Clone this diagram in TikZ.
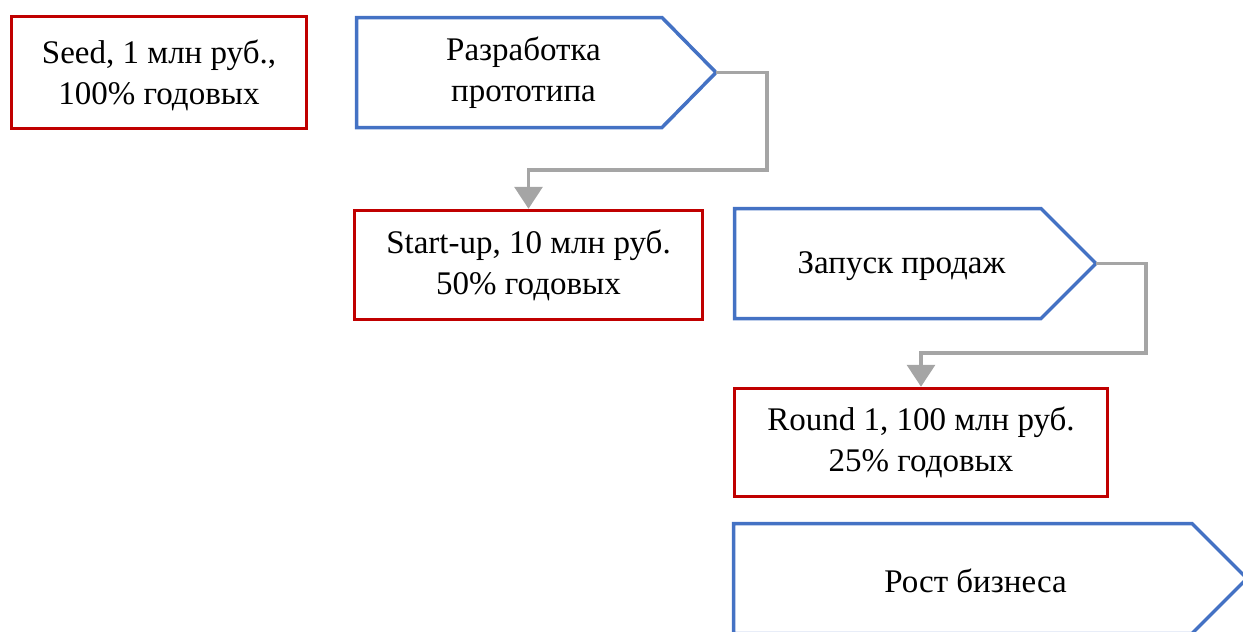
\documentclass[tikz,border=0pt]{standalone}
\usepackage{fontspec}
\setmainfont{Liberation Serif}
\usetikzlibrary{arrows.meta,positioning,calc}
\definecolor{fundRed}{RGB}{192,0,0}
\definecolor{stageBlue}{RGB}{68,114,196}
\definecolor{linkGray}{RGB}{165,165,165}
\tikzset{
  fund/.style={draw=fundRed, line width=3.5pt, fill=white, align=center, inner sep=0pt, font=\fontsize{33}{41}\selectfont},
  stage/.style={draw=stageBlue, line width=3.5pt, line join=miter},
  stagetext/.style={align=center, inner sep=0pt, font=\fontsize{33}{41}\selectfont},
  link/.style={draw=linkGray, line width=3.5pt, -{Triangle[length=22pt, width=28pt]}}
}

\begin{document}
\begin{tikzpicture}[x=1pt,y=-1pt]
  \useasboundingbox (0,0) rectangle (1243,632);

  % funding rounds
  \node[fund, minimum width=295pt, minimum height=112pt, text height=70pt, text depth=7pt] (seed) at (159,72.5) {Seed, 1 млн руб.,\\100\% годовых};
  \node[fund, minimum width=348pt, minimum height=109pt] (startup) at (528.5,265) {Start-up, 10 млн руб.\\50\% годовых};
  \node[fund, minimum width=373pt, minimum height=108pt] (round) at (921,442.5) {Round 1, 100 млн руб.\\25\% годовых};

  % stages
  \draw[stage] (356.5,17.5) -- (662,17.5) -- (716,72.5) -- (662,127.5) -- (356.5,127.5) -- cycle;
  \node[stagetext] (proto) at (523.5,72.5) {Разработка\\прототипа};
  \coordinate (protoTip) at (716,72.5);

  \draw[stage] (734.5,208.5) -- (1041,208.5) -- (1096,263.5) -- (1041,318.5) -- (734.5,318.5) -- cycle;
  \node[stagetext] (sales) at (901.5,266) {Запуск продаж};
  \coordinate (salesTip) at (1096,263.5);

  \draw[stage] (733.5,523.5) -- (1192,523.5) -- (1247,578.5) -- (1192,633.5) -- (733.5,633.5) -- cycle;
  \node[stagetext] (growth) at (975.5,580.5) {Рост бизнеса};

  % links
  \draw[link] (protoTip) -- ++(51,0) |- ($(startup.north)+(0,-39)$) -- (startup.north);
  \draw[link] (salesTip) -- ++(50,0) |- ($(round.north)+(0,-34)$) -- (round.north);
\end{tikzpicture}
\end{document}
